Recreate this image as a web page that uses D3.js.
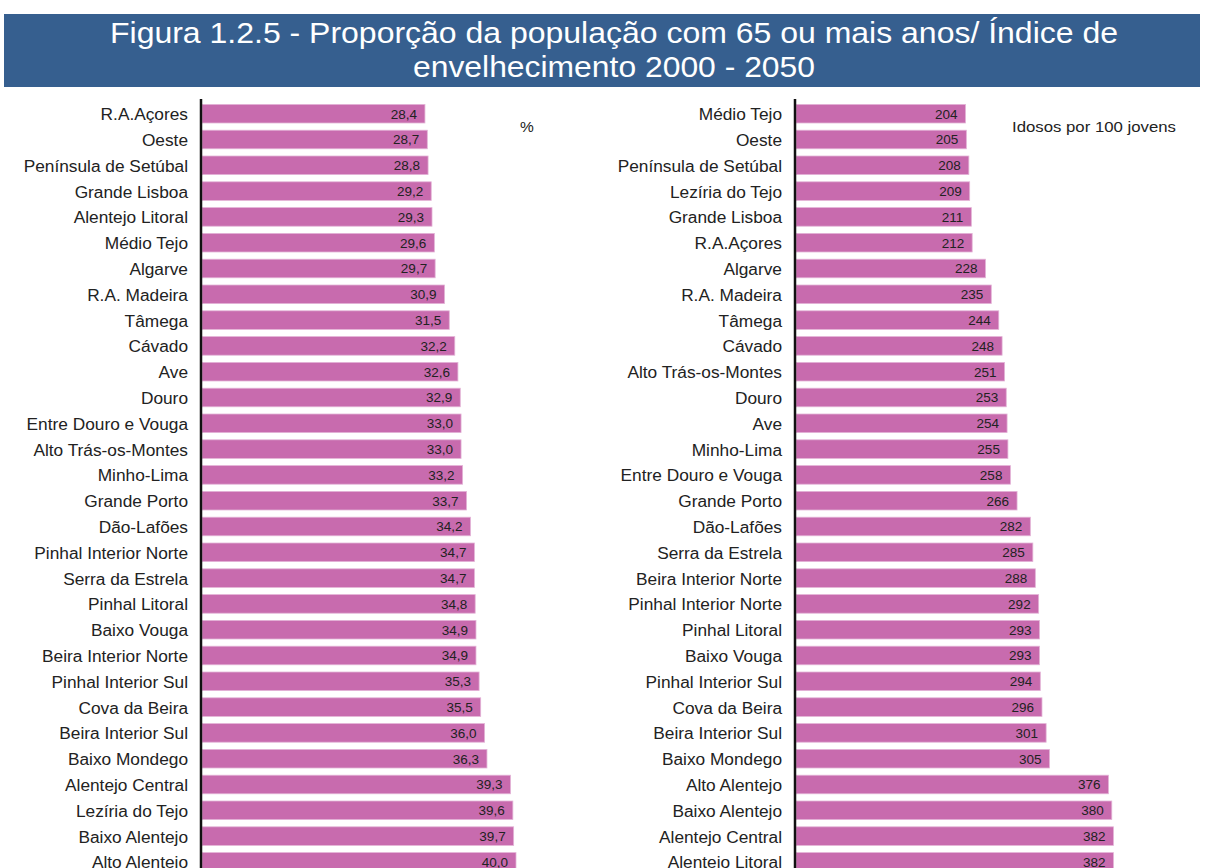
<!DOCTYPE html>
<html>
<head>
<meta charset="utf-8">
<script src="https://cdn.jsdelivr.net/npm/d3@7"></script>
<style>
  body { margin: 0; background: #fff; }
  svg { display: block; font-family: "Liberation Sans", Arial, sans-serif; }
</style>
</head>
<body>
<svg width="1209" height="868"></svg>
<script>
// Proporção da população com 65 ou mais anos (%)
var propRegions = ["R.A.Açores", "Oeste", "Península de Setúbal", "Grande Lisboa", "Alentejo Litoral",
    "Médio Tejo", "Algarve", "R.A. Madeira", "Tâmega", "Cávado", "Ave", "Douro", "Entre Douro e Vouga",
    "Alto Trás-os-Montes", "Minho-Lima", "Grande Porto", "Dão-Lafões", "Pinhal Interior Norte",
    "Serra da Estrela", "Pinhal Litoral", "Baixo Vouga", "Beira Interior Norte", "Pinhal Interior Sul",
    "Cova da Beira", "Beira Interior Sul", "Baixo Mondego", "Alentejo Central", "Lezíria do Tejo",
    "Baixo Alentejo", "Alto Alentejo"];
var propValues = [28.4, 28.7, 28.8, 29.2, 29.3, 29.6, 29.7, 30.9, 31.5, 32.2, 32.6, 32.9, 33.0,
    33.0, 33.2, 33.7, 34.2, 34.7, 34.7, 34.8, 34.9, 34.9, 35.3, 35.5, 36.0, 36.3, 39.3, 39.6, 39.7, 40.0];

// Índice de envelhecimento (idosos por 100 jovens)
var indRegions = ["Médio Tejo", "Oeste", "Península de Setúbal", "Lezíria do Tejo", "Grande Lisboa",
    "R.A.Açores", "Algarve", "R.A. Madeira", "Tâmega", "Cávado", "Alto Trás-os-Montes", "Douro", "Ave",
    "Minho-Lima", "Entre Douro e Vouga", "Grande Porto", "Dão-Lafões", "Serra da Estrela",
    "Beira Interior Norte", "Pinhal Interior Norte", "Pinhal Litoral", "Baixo Vouga", "Pinhal Interior Sul",
    "Cova da Beira", "Beira Interior Sul", "Baixo Mondego", "Alto Alentejo", "Baixo Alentejo",
    "Alentejo Central", "Alentejo Litoral"];
var indValues = [204, 205, 208, 209, 211, 212, 228, 235, 244, 248, 251, 253, 254, 255, 258, 266,
    282, 285, 288, 292, 293, 293, 294, 296, 301, 305, 376, 380, 382, 382];

var titleLines = ["Figura 1.2.5 - Proporção da população com 65 ou mais anos/ Índice de",
    "envelhecimento 2000 - 2050"];

var svg = d3.select("svg");

// title band
svg.append("rect")
    .attr("x", 4).attr("y", 14)
    .attr("width", 1196).attr("height", 73)
    .attr("fill", "#365f8f");

// the original title is set a bit wider than Liberation Sans, so stretch to the measured widths
var titleWidths = [1008, 402];
svg.selectAll("text.title")
    .data(titleLines)
    .enter().append("text")
    .attr("class", "title")
    .attr("x", 614)
    .attr("y", function(d, i) { return 43 + i * 34; })
    .attr("text-anchor", "middle")
    .attr("fill", "#fff")
    .attr("font-size", 30)
    .attr("textLength", function(d, i) { return titleWidths[i]; })
    .attr("lengthAdjust", "spacingAndGlyphs")
    .text(function(d) { return d; });

// draws one horizontal bar panel
function panel(regions, values, x0, xMax, pxPerUnit, fmt, unit, unitX, unitW) {
    var x = d3.scaleLinear().domain([0, xMax]).range([x0, x0 + xMax * pxPerUnit]);
    var y = d3.scaleBand()
        .domain(regions)
        .range([100.8, 100.8 + regions.length * 25.8])
        .paddingInner(0.28)
        .paddingOuter(0.14);

    var g = svg.append("g");

    g.selectAll("rect.bar")
        .data(values)
        .enter().append("rect")
        .attr("class", "bar")
        .attr("x", x(0))
        .attr("y", function(d, i) { return y(regions[i]); })
        .attr("width", function(d) { return x(d) - x(0); })
        .attr("height", y.bandwidth())
        .attr("fill", "#c86bae")
        .attr("stroke", "#e3b3d6")
        .attr("stroke-width", 0.8);

    // value labels inside the bars
    g.selectAll("text.val")
        .data(values)
        .enter().append("text")
        .attr("class", "val")
        .attr("x", function(d) { return x(d) - 8; })
        .attr("y", function(d, i) { return y(regions[i]) + y.bandwidth() / 2; })
        .attr("dy", "0.37em")
        .attr("text-anchor", "end")
        .attr("font-size", 13.5)
        .attr("fill", "#222")
        .text(fmt);

    // category labels
    var axis = d3.axisLeft(y).tickSize(0).tickPadding(13);
    var ax = g.append("g")
        .attr("transform", "translate(" + (x0 - 1) + ",0)")
        .call(axis);
    ax.select(".domain").remove();
    ax.selectAll("text")
        .attr("dy", "0.37em")
        .attr("font-size", 17.3)
        .attr("font-family", "'Liberation Sans', Arial, sans-serif")
        .attr("fill", "#222");

    // vertical axis line
    g.append("line")
        .attr("x1", x0 - 1).attr("x2", x0 - 1)
        .attr("y1", 99).attr("y2", 868)
        .attr("stroke", "#111")
        .attr("stroke-width", 2.5);

    var u = g.append("text")
        .attr("x", unitX)
        .attr("y", 132)
        .attr("font-size", 15.5)
        .attr("fill", "#222")
        .text(unit);
    if (unitW) u.attr("textLength", unitW).attr("lengthAdjust", "spacingAndGlyphs");
}

var comma = function(d) { return d3.format(".1f")(d).replace(".", ","); };

panel(propRegions, propValues, 202, 50, 7.85, comma, "%", 520, 0);
panel(indRegions, indValues, 796, 500, 0.831, function(d) { return d; }, "Idosos por 100 jovens", 1012, 164);
</script>
</body>
</html>
